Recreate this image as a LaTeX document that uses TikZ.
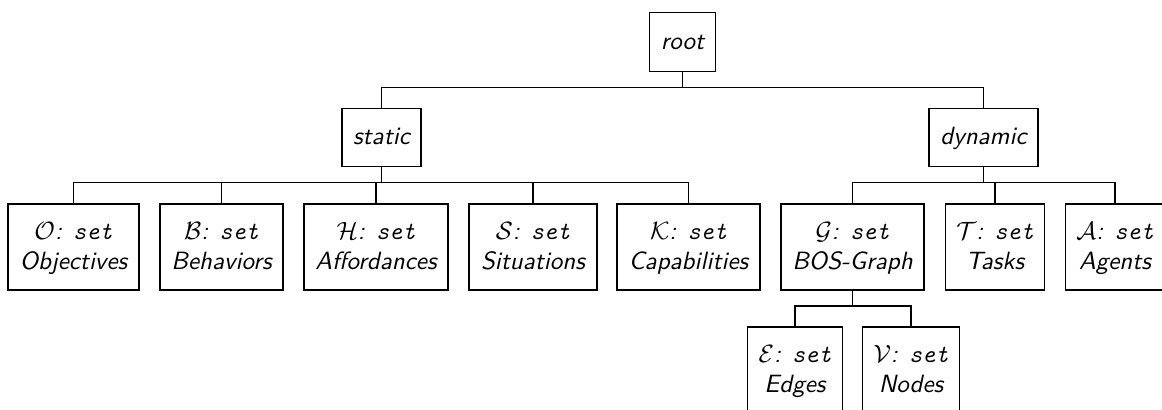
\documentclass[tikz,border=0pt]{standalone}
\usepackage{fontspec}
% fixed line strut: height 8pt, depth 2pt
\newcommand\lstrut{\rule[-2pt]{0pt}{10pt}}
% "X: set" label with a calligraphic set symbol
\newcommand\setof[1]{$\mathcal{#1}$: \texttt{set}}
\begin{document}
\begin{tikzpicture}[x=0.4pt,y=0.4pt,
  box/.style={draw, line width=0.45pt, inner xsep=4.4pt, inner ysep=0pt,
              align=center, font=\sffamily\itshape},
  one/.style={box, minimum height=23.4pt},
  two/.style={box, minimum height=34.4pt},
  link/.style={line width=0.45pt}]
\useasboundingbox (0,0) rectangle (1162,410);

% level 0
\node[one, minimum width=26pt] (root) at (682.5,368) {root\lstrut};

% level 1
\node[one, minimum width=31.6pt] (static)  at (381.5,272.5) {static\lstrut};
\node[one, minimum width=43.6pt] (dynamic) at (983.5,272.5) {dynamic\lstrut};

% level 2: static sets
\node[two, minimum width=52.4pt] (obj) at (73.5,163) {\setof{O}\lstrut\\Objectives\lstrut};
\node[two, minimum width=49.2pt] (beh) at (221.5,163) {\setof{B}\lstrut\\Behaviors\lstrut};
\node[two, minimum width=57.6pt] (aff) at (376,163) {\setof{H}\lstrut\\Affordances\lstrut};
\node[two, minimum width=51.2pt] (sit) at (533,163) {\setof{S}\lstrut\\Situations\lstrut};
\node[two, minimum width=57.2pt] (cap) at (688.5,163) {\setof{K}\lstrut\\Capabilities\lstrut};

% level 2: dynamic sets
\node[two, minimum width=57.2pt] (bos)    at (852.5,163) {\setof{G}\lstrut\\BOS-Graph\lstrut};
\node[two, minimum width=39.2pt] (tasks)  at (995,163)   {\setof{T}\lstrut\\Tasks\lstrut};
\node[two, minimum width=39.2pt] (agents) at (1115,163)  {\setof{A}\lstrut\\Agents\lstrut};

% level 3: graph parts
\node[two, minimum width=37.6pt] (edges) at (795,40) {\setof{E}\lstrut\\Edges\lstrut};
\node[two, minimum width=38.4pt] (nodes) at (911,40) {\setof{V}\lstrut\\Nodes\lstrut};

% connectors: down to a bus line, across, down to the child
\foreach \p/\c in {root/static, root/dynamic,
                   static/obj, static/beh, static/aff, static/sit, static/cap,
                   dynamic/bos, dynamic/tasks, dynamic/agents,
                   bos/edges, bos/nodes}
  \draw[link] (\p.south) -- ++(0,-15.5) -| (\c.north);
\end{tikzpicture}
\end{document}
